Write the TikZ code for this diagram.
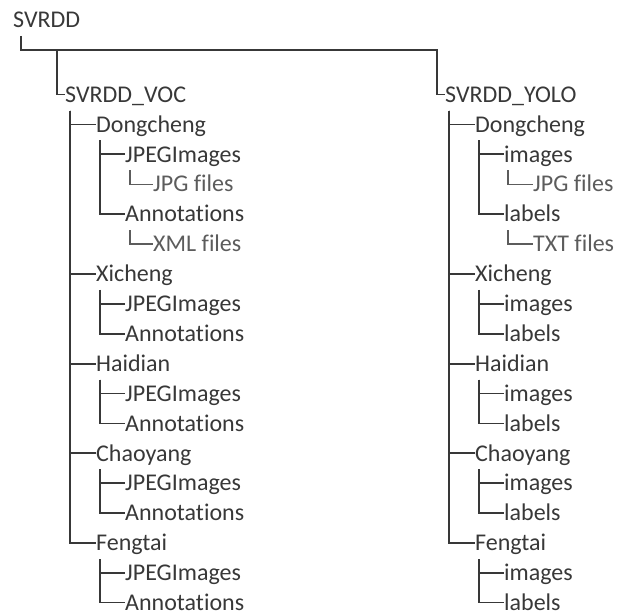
\documentclass[tikz,border=0pt]{standalone}
\usepackage{fontspec}
\setmainfont{Carlito}[Ligatures={NoCommon,NoContextual}, Contextuals=NoAlternate]
\usepackage{xcolor}
\definecolor{treegray}{RGB}{56, 56, 56}
\definecolor{leafgray}{RGB}{92, 92, 92}
\tikzset{
    dirnode/.style={anchor=west, inner sep=0pt, text height=18pt, text depth=2.5pt,
        text=treegray, font=\fontsize{24}{28}\selectfont},
    leafnode/.style={dirnode, text=leafgray},
    branch/.style={draw=treegray, line width=1.8pt},
    leafbranch/.style={draw=leafgray, line width=1.1pt}
}

\begin{document}
\begin{tikzpicture}[x=1pt, y=-1pt]
    \useasboundingbox (0,0) rectangle (619,614);

    % Root and the two dataset formats
    \node[dirnode] (svrdd) at (13,19.5) {SVRDD};
    \coordinate (vocdrop) at (57,50);
    \coordinate (yolodrop) at (437,50);
    \node[dirnode] (voc) at (65,94.5) {SVRDD\_VOC};
    \node[dirnode] (yolo) at (445,94.5) {SVRDD\_YOLO};
    \draw[branch] ([shift={(8pt,-6pt)}]svrdd.south west) |- (yolodrop) |- (yolo.west);
    \draw[branch] (vocdrop) |- (voc.west);

    % VOC side
    \node[dirnode] (vocDong) at (96,124.4) {Dongcheng};
    \node[dirnode] (vocDongJpeg) at (125,154.3) {JPEGImages};
    \node[leafnode] (vocDongJpg) at (153,184.2) {JPG files};
    \node[dirnode] (vocDongAnn) at (125,214.1) {Annotations};
    \node[leafnode] (vocDongXml) at (153,244) {XML files};
    \node[dirnode] (vocXi) at (96,273.9) {Xicheng};
    \node[dirnode] (vocXiJpeg) at (125,303.8) {JPEGImages};
    \node[dirnode] (vocXiAnn) at (125,333.7) {Annotations};
    \node[dirnode] (vocHai) at (96,363.6) {Haidian};
    \node[dirnode] (vocHaiJpeg) at (125,393.5) {JPEGImages};
    \node[dirnode] (vocHaiAnn) at (125,423.4) {Annotations};
    \node[dirnode] (vocChao) at (96,453.3) {Chaoyang};
    \node[dirnode] (vocChaoJpeg) at (125,483.2) {JPEGImages};
    \node[dirnode] (vocChaoAnn) at (125,513.1) {Annotations};
    \node[dirnode] (vocFeng) at (96,543) {Fengtai};
    \node[dirnode] (vocFengJpeg) at (125,572.9) {JPEGImages};
    \node[dirnode] (vocFengAnn) at (125,602.4) {Annotations};

    \draw[branch] ([shift={(5pt,-16pt)}]voc.west) |- (vocDong.west);
    \draw[branch] ([shift={(5pt,-16pt)}]voc.west) |- (vocXi.west);
    \draw[branch] ([shift={(5pt,-16pt)}]voc.west) |- (vocHai.west);
    \draw[branch] ([shift={(5pt,-16pt)}]voc.west) |- (vocChao.west);
    \draw[branch] ([shift={(5pt,-16pt)}]voc.west) |- (vocFeng.west);

    \draw[branch] ([shift={(4pt,-16pt)}]vocDong.west) |- (vocDongJpeg.west);
    \draw[branch] ([shift={(4pt,-16pt)}]vocDong.west) |- (vocDongAnn.west);
    \draw[branch] ([shift={(4pt,-16pt)}]vocXi.west) |- (vocXiJpeg.west);
    \draw[branch] ([shift={(4pt,-16pt)}]vocXi.west) |- (vocXiAnn.west);
    \draw[branch] ([shift={(4pt,-16pt)}]vocHai.west) |- (vocHaiJpeg.west);
    \draw[branch] ([shift={(4pt,-16pt)}]vocHai.west) |- (vocHaiAnn.west);
    \draw[branch] ([shift={(4pt,-16pt)}]vocChao.west) |- (vocChaoJpeg.west);
    \draw[branch] ([shift={(4pt,-16pt)}]vocChao.west) |- (vocChaoAnn.west);
    \draw[branch] ([shift={(4pt,-16pt)}]vocFeng.west) |- (vocFengJpeg.west);
    \draw[branch] ([shift={(4pt,-16pt)}]vocFeng.west) |- (vocFengAnn.west);

    \draw[leafbranch] ([shift={(5pt,-16pt)}]vocDongJpeg.west) |- (vocDongJpg.west);
    \draw[leafbranch] ([shift={(5pt,-16pt)}]vocDongAnn.west) |- (vocDongXml.west);

    % YOLO side
    \node[dirnode] (yoloDong) at (475,124.4) {Dongcheng};
    \node[dirnode] (yoloDongImg) at (504,154.3) {images};
    \node[leafnode] (yoloDongJpg) at (533,184.2) {JPG files};
    \node[dirnode] (yoloDongLbl) at (504,214.1) {labels};
    \node[leafnode] (yoloDongTxt) at (533,244) {TXT files};
    \node[dirnode] (yoloXi) at (475,273.9) {Xicheng};
    \node[dirnode] (yoloXiImg) at (504,303.8) {images};
    \node[dirnode] (yoloXiLbl) at (504,333.7) {labels};
    \node[dirnode] (yoloHai) at (475,363.6) {Haidian};
    \node[dirnode] (yoloHaiImg) at (504,393.5) {images};
    \node[dirnode] (yoloHaiLbl) at (504,423.4) {labels};
    \node[dirnode] (yoloChao) at (475,453.3) {Chaoyang};
    \node[dirnode] (yoloChaoImg) at (504,483.2) {images};
    \node[dirnode] (yoloChaoLbl) at (504,513.1) {labels};
    \node[dirnode] (yoloFeng) at (475,543) {Fengtai};
    \node[dirnode] (yoloFengImg) at (504,572.9) {images};
    \node[dirnode] (yoloFengLbl) at (504,602.4) {labels};

    \draw[branch] ([shift={(4pt,-16pt)}]yolo.west) |- (yoloDong.west);
    \draw[branch] ([shift={(4pt,-16pt)}]yolo.west) |- (yoloXi.west);
    \draw[branch] ([shift={(4pt,-16pt)}]yolo.west) |- (yoloHai.west);
    \draw[branch] ([shift={(4pt,-16pt)}]yolo.west) |- (yoloChao.west);
    \draw[branch] ([shift={(4pt,-16pt)}]yolo.west) |- (yoloFeng.west);

    \draw[branch] ([shift={(4pt,-16pt)}]yoloDong.west) |- (yoloDongImg.west);
    \draw[branch] ([shift={(4pt,-16pt)}]yoloDong.west) |- (yoloDongLbl.west);
    \draw[branch] ([shift={(4pt,-16pt)}]yoloXi.west) |- (yoloXiImg.west);
    \draw[branch] ([shift={(4pt,-16pt)}]yoloXi.west) |- (yoloXiLbl.west);
    \draw[branch] ([shift={(4pt,-16pt)}]yoloHai.west) |- (yoloHaiImg.west);
    \draw[branch] ([shift={(4pt,-16pt)}]yoloHai.west) |- (yoloHaiLbl.west);
    \draw[branch] ([shift={(4pt,-16pt)}]yoloChao.west) |- (yoloChaoImg.west);
    \draw[branch] ([shift={(4pt,-16pt)}]yoloChao.west) |- (yoloChaoLbl.west);
    \draw[branch] ([shift={(4pt,-16pt)}]yoloFeng.west) |- (yoloFengImg.west);
    \draw[branch] ([shift={(4pt,-16pt)}]yoloFeng.west) |- (yoloFengLbl.west);

    \draw[leafbranch] ([shift={(4pt,-16pt)}]yoloDongImg.west) |- (yoloDongJpg.west);
    \draw[leafbranch] ([shift={(4pt,-16pt)}]yoloDongLbl.west) |- (yoloDongTxt.west);
\end{tikzpicture}
\end{document}
